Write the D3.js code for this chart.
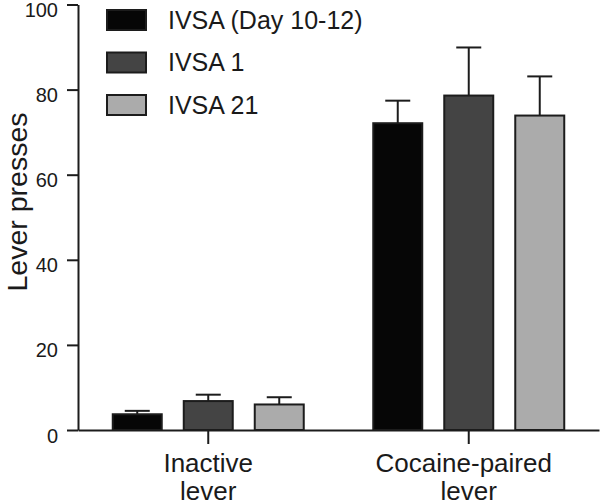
<!DOCTYPE html>
<html>
<head>
<meta charset="utf-8">
<script src="https://cdn.jsdelivr.net/npm/d3@7"></script>
<style>
  html, body { margin: 0; padding: 0; background: #fff; }
  svg { display: block; font-family: "Liberation Sans", Arial, Helvetica, sans-serif; }
</style>
</head>
<body>
<svg id="chart" width="600" height="503"></svg>
<script>
// ---- data ----
const categories = ["Inactive lever", "Cocaine-paired lever"];
const categoryLines = [["Inactive", "lever"], ["Cocaine-paired", "lever"]];
const seriesNames = ["IVSA (Day 10-12)", "IVSA 1", "IVSA 21"];
const meanDay10_12 = [3.7, 72.1];
const meanIVSA1 = [6.8, 78.6];
const meanIVSA21 = [6.0, 73.9];
const semDay10_12 = [0.8, 5.3];
const semIVSA1 = [1.5, 11.3];
const semIVSA21 = [1.7, 9.2];
const yTicks = [0, 20, 40, 60, 80, 100];
const yLabel = "Lever presses";

const seriesMeans = [meanDay10_12, meanIVSA1, meanIVSA21];
const seriesSems = [semDay10_12, semIVSA1, semIVSA21];
const colors = ["#060606", "#444444", "#ababab"];
const strokeCol = "#1c1c1c";

const svg = d3.select("#chart");

const x0 = d3.scaleBand().domain(categories).range([78, 599]).paddingInner(0).paddingOuter(0);
const bw = x0.bandwidth();
const x1 = d3.scaleBand().domain(seriesNames)
  .range([bw / 2 - 106.5, bw / 2 + 106.5])
  .paddingInner(0.31).paddingOuter(0.155);
const y = d3.scaleLinear().domain([0, 100]).range([430, 4.5]);

const rows = [];
categories.forEach((c, ci) => {
  seriesNames.forEach((s, si) => {
    rows.push({cat: c, ser: s, si, mean: seriesMeans[si][ci], sem: seriesSems[si][ci]});
  });
});

// error bars (drawn before bars so the lower half is hidden)
const eb = svg.append("g");
rows.forEach(d => {
  const cx = x0(d.cat) + x1(d.ser) + x1.bandwidth() / 2;
  eb.append("line").attr("x1", cx).attr("x2", cx)
    .attr("y1", y(d.mean)).attr("y2", y(d.mean + d.sem))
    .attr("stroke", strokeCol).attr("stroke-width", 2);
  eb.append("line").attr("x1", cx - 12.5).attr("x2", cx + 12.5)
    .attr("y1", y(d.mean + d.sem)).attr("y2", y(d.mean + d.sem))
    .attr("stroke", strokeCol).attr("stroke-width", 2);
});

// bars
svg.append("g").selectAll("rect").data(rows).join("rect")
  .attr("x", d => x0(d.cat) + x1(d.ser))
  .attr("width", x1.bandwidth())
  .attr("y", d => y(d.mean))
  .attr("height", d => y(0) - y(d.mean))
  .attr("fill", d => colors[d.si])
  .attr("stroke", strokeCol).attr("stroke-width", 2);

// y axis
const yAxis = svg.append("g").attr("transform", "translate(78,0)")
  .call(d3.axisLeft(y).tickValues(yTicks).tickSize(11).tickSizeOuter(0).tickPadding(9));
yAxis.selectAll("path, line").attr("stroke", strokeCol).attr("stroke-width", 2);
yAxis.selectAll("text").attr("font-size", 20).attr("fill", "#1a1a1a")
  .attr("font-family", "'Liberation Sans', Arial, sans-serif").attr("dy", "0.6em");

// x axis
const xAxis = svg.append("g").attr("transform", "translate(0,430)")
  .call(d3.axisBottom(x0).tickSize(14).tickSizeOuter(0).tickFormat(""));
xAxis.selectAll("path, line").attr("stroke", strokeCol).attr("stroke-width", 2);

// category labels
categories.forEach((c, ci) => {
  const t = svg.append("text")
    .attr("x", x0(c) + bw / 2).attr("y", 472)
    .attr("text-anchor", "middle").attr("font-size", 26).attr("fill", "#1a1a1a");
  categoryLines[ci].forEach((ln, li) => {
    t.append("tspan").attr("x", x0(c) + bw / 2 - (li === 0 && ci === 1 ? 5 : 0))
      .attr("dy", li === 0 ? 0 : 28).text(ln);
  });
});

// y label
svg.append("text")
  .attr("transform", "translate(27,202) rotate(-90)")
  .attr("text-anchor", "middle").attr("font-size", 28.5).attr("fill", "#1a1a1a")
  .text(yLabel);

// legend
const leg = svg.append("g");
seriesNames.forEach((s, i) => {
  const top = 10 + i * 42.5;
  leg.append("rect").attr("x", 107).attr("y", top).attr("width", 39).attr("height", 20)
    .attr("fill", colors[i]).attr("stroke", strokeCol).attr("stroke-width", 2);
  leg.append("text").attr("x", 168).attr("y", top + 18.5)
    .attr("font-size", 25).attr("fill", "#1a1a1a").text(s);
});
</script>
</body>
</html>
